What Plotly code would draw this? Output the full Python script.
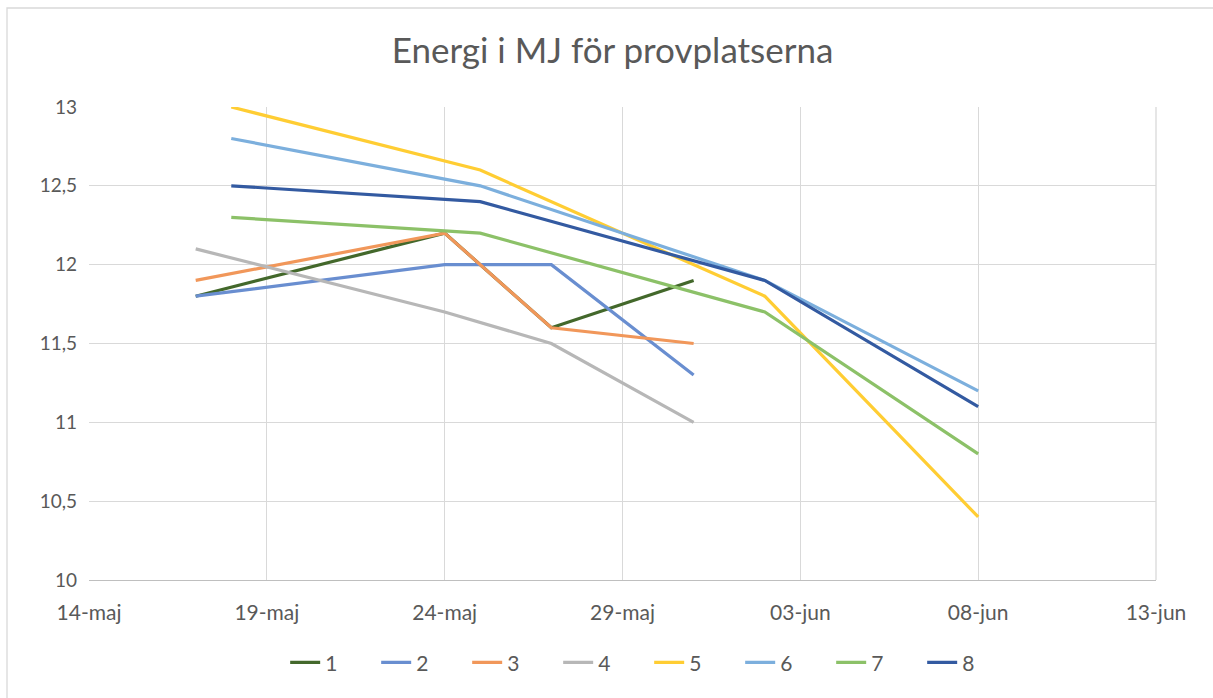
import plotly.graph_objects as go

series_names = ["1", "2", "3", "4", "5", "6", "7", "8"]
dates_a = ["2021-05-17", "2021-05-24", "2021-05-27", "2021-05-31"]
dates_b = ["2021-05-18", "2021-05-25", "2021-06-02", "2021-06-08"]
s1 = [11.8, 12.2, 11.6, 11.9]
s2 = [11.8, 12.0, 12.0, 11.3]
s3 = [11.9, 12.2, 11.6, 11.5]
s4 = [12.1, 11.7, 11.5, 11.0]
s5 = [13.0, 12.6, 11.8, 10.4]
s6 = [12.8, 12.5, 11.9, 11.2]
s7 = [12.3, 12.2, 11.7, 10.8]
s8 = [12.5, 12.4, 11.9, 11.1]
x_tickvals = ["2021-05-14", "2021-05-19", "2021-05-24", "2021-05-29", "2021-06-03", "2021-06-08", "2021-06-13"]
x_ticktext = ["14-maj", "19-maj", "24-maj", "29-maj", "03-jun", "08-jun", "13-jun"]
y_tickvals = [10, 10.5, 11, 11.5, 12, 12.5, 13]
y_ticktext = ["10", "10,5", "11", "11,5", "12", "12,5", "13"]

colors = ["#43682B", "#698ED0", "#F1975A", "#B7B7B7", "#FFCD33", "#7CAFDD", "#8CC168", "#335AA1"]
data = [(dates_a, s1), (dates_a, s2), (dates_a, s3), (dates_a, s4),
        (dates_b, s5), (dates_b, s6), (dates_b, s7), (dates_b, s8)]

FONT = "Lato, sans-serif"
TXT = "#595959"

fig = go.Figure()
for name, (xs, ys), c in zip(series_names, data, colors):
    fig.add_trace(go.Scatter(x=xs, y=ys, name=name, mode="lines",
                             line=dict(color=c, width=3.2)))

fig.update_layout(
    width=1213, height=698,
    margin=dict(l=89, r=57, t=107, b=118),
    paper_bgcolor="white", plot_bgcolor="white",
    font=dict(family=FONT, size=21, color=TXT),
    title=dict(text="Energi i MJ för provplatserna", x=0.505, xanchor="center",
               y=0.928, yanchor="middle", font=dict(size=35, color=TXT, family=FONT)),
    legend=dict(orientation="h", x=0.525, xanchor="center", y=-0.175, yanchor="middle",
                font=dict(size=21, color=TXT), entrywidth=46, entrywidthmode="pixels",
                tracegroupgap=0),
    xaxis=dict(type="date", range=["2021-05-14", "2021-06-13"],
               tickvals=x_tickvals, ticktext=x_ticktext,
               showgrid=True, gridcolor="#D9D9D9", gridwidth=1.3,
               showline=True, linecolor="#BFBFBF", linewidth=1.3,
               ticks="", ticklabelstandoff=14, zeroline=False),
    yaxis=dict(range=[10, 13], tickvals=y_tickvals, ticktext=y_ticktext,
               tickfont=dict(size=19),
               showgrid=True, gridcolor="#D9D9D9", gridwidth=1.3,
               showline=False, ticks="", ticklabelstandoff=11, zeroline=False),
    shapes=[dict(type="line", xref="paper", yref="paper", x0=1, x1=1, y0=0, y1=1,
                 line=dict(color="#D9D9D9", width=1.3), layer="below"),
            dict(type="rect", xref="paper", yref="paper",
                 x0=(7 - 89) / 1067, x1=1.3, y0=-0.4, y1=(580 - 8) / 473,
                 line=dict(color="#D9D9D9", width=1.3), layer="below")],
)

fig.write_html("out.html")
